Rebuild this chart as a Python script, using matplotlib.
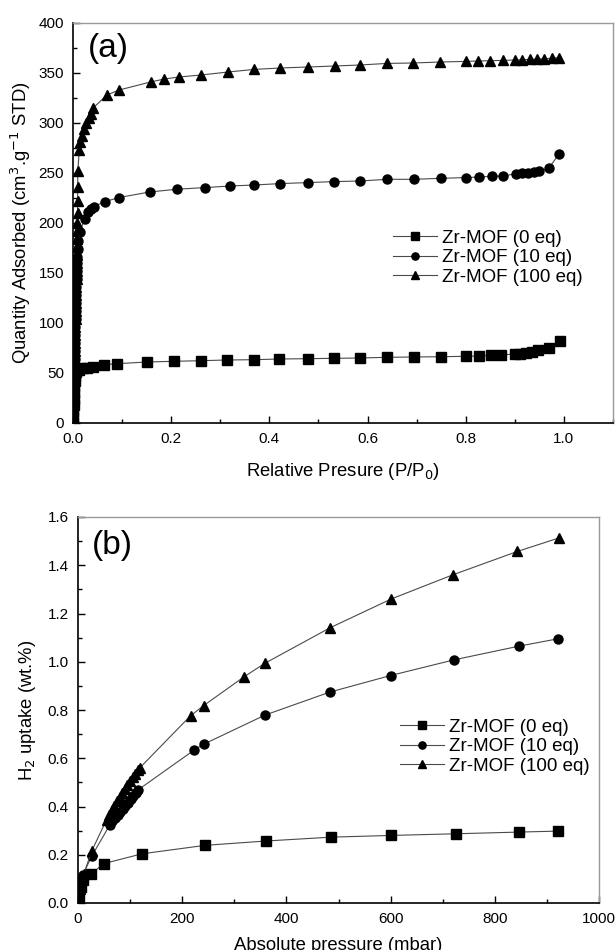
import matplotlib

matplotlib.use("Agg")
import matplotlib.pyplot as plt
from matplotlib.ticker import MultipleLocator

plt.rcParams["font.family"] = ["Liberation Sans", "DejaVu Sans"]

# ---- panel (a): N2 isotherms ----
a_x_0eq = [0.0, 0.0005, 0.001, 0.0015, 0.002, 0.0025, 0.003, 0.0035, 0.004, 0.006,
           0.012, 0.02, 0.028, 0.04, 0.064, 0.09, 0.15, 0.206, 0.26, 0.313, 0.368,
           0.42, 0.478, 0.532, 0.585, 0.64, 0.695, 0.75, 0.8, 0.828, 0.852, 0.872,
           0.9, 0.91, 0.922, 0.935, 0.947, 0.969, 0.992]
a_y_0eq = [0, 6, 12, 18, 24, 30, 36, 42, 47, 51,
           53, 55, 55.5, 56.5, 58.3, 59.3, 61, 61.7, 62.3, 63, 63.3,
           64, 64.3, 64.7, 65, 65.7, 66, 66.3, 66.7, 67, 67.7, 68,
           69, 69.3, 70, 70.7, 72.7, 75, 82.3]

a_x_10eq = [0.0, 0.0004, 0.0008, 0.0012, 0.0016, 0.002, 0.0024, 0.0028, 0.0032, 0.0036,
            0.004, 0.0044, 0.0048, 0.0052, 0.0056, 0.006, 0.0064, 0.0068, 0.0072, 0.0076,
            0.008, 0.0085, 0.0095, 0.011, 0.0136, 0.024, 0.03, 0.036, 0.042, 0.066,
            0.094, 0.156, 0.212, 0.268, 0.32, 0.369, 0.422, 0.478, 0.532, 0.585,
            0.64, 0.695, 0.75, 0.8, 0.828, 0.854, 0.875, 0.903, 0.915, 0.927,
            0.94, 0.95, 0.969, 0.99]
a_y_10eq = [0, 8, 16, 24, 32, 40, 48, 56, 64, 72,
            80, 88, 96, 104, 112, 120, 128, 136, 144, 152,
            160, 166, 174, 182, 191, 204, 210.6, 214, 216.5, 221.5,
            225.5, 231, 233.8, 235.4, 237, 238, 239.4, 240.4, 241.4, 242,
            243.7, 243.7, 244.7, 245.4, 246, 246.7, 247, 249.3, 249.7, 250.3,
            251, 252, 254.6, 269]

a_x_100eq = [0.0, 0.0004, 0.0008, 0.0012, 0.0016, 0.002, 0.0024, 0.0028, 0.0032, 0.0036,
             0.004, 0.0044, 0.0048, 0.0052, 0.0056, 0.006, 0.0064, 0.0068, 0.0072, 0.0076,
             0.008, 0.0082, 0.0084, 0.0086, 0.0088, 0.009, 0.0092, 0.0094, 0.0096, 0.0098,
             0.0128, 0.015, 0.019, 0.0224, 0.027, 0.032, 0.037, 0.041, 0.069, 0.094,
             0.158, 0.186, 0.216, 0.261, 0.316, 0.369, 0.422, 0.478, 0.533, 0.585,
             0.64, 0.693, 0.748, 0.8, 0.825, 0.85, 0.875, 0.9, 0.915, 0.93,
             0.945, 0.96, 0.975, 0.99]
a_y_100eq = [0, 8, 16, 24, 32, 40, 48, 56, 64, 72,
             80, 88, 96, 104, 112, 120, 128, 136, 144, 152,
             160, 168, 176, 184, 192, 200, 210, 222, 236, 252,
             273, 281, 287, 294, 300.5, 305, 309.5, 315, 328, 333,
             341, 344, 346, 348, 351, 353.6, 355, 356, 357, 358,
             359.6, 360, 361, 361.6, 362, 362.3, 362.6, 363, 363.3, 363.6,
             364, 364.3, 364.6, 365.5]

# ---- panel (b): H2 uptake ----
b_x_0eq = [0.5, 2, 5, 10, 25, 49, 123, 244, 361, 486, 600, 726, 847, 921]
b_y_0eq = [0.004, 0.03, 0.066, 0.097, 0.119, 0.163, 0.204, 0.239, 0.257, 0.273,
           0.28, 0.287, 0.294, 0.298]

b_x_10eq = [1, 3, 6, 9, 26, 61.5, 66, 71, 76, 81, 86, 91, 96, 101, 106, 111, 116,
            223, 242, 359, 483, 600, 722, 847, 921]
b_y_10eq = [0.02, 0.06, 0.1, 0.115, 0.193, 0.325, 0.338, 0.351, 0.364, 0.377, 0.39,
            0.403, 0.416, 0.43, 0.443, 0.457, 0.47,
            0.634, 0.659, 0.779, 0.874, 0.943, 1.008, 1.065, 1.095]

b_x_100eq = [1, 3, 6, 11, 26, 55, 60, 65, 70, 75, 80, 85, 90, 95, 100, 105, 110, 115, 119,
             216, 241, 319, 359, 484, 601, 719, 843, 923]
b_y_100eq = [0.02, 0.06, 0.1, 0.119, 0.214, 0.346, 0.366, 0.385, 0.404, 0.422, 0.44,
             0.457, 0.474, 0.49, 0.506, 0.521, 0.536, 0.55, 0.561,
             0.776, 0.818, 0.938, 0.994, 1.141, 1.26, 1.36, 1.457, 1.513]

labels = ["Zr-MOF (0 eq)", "Zr-MOF (10 eq)", "Zr-MOF (100 eq)"]
markers = ["s", "o", "^"]

LINE_KW = dict(color="#4a4a4a", lw=0.8, markerfacecolor="black",
               markeredgecolor="black", markersize=6.5)


def style_axes(ax):
    for side in ("left", "bottom"):
        ax.spines[side].set_color("black")
        ax.spines[side].set_linewidth(1.2)
    for side in ("top", "right"):
        ax.spines[side].set_color("#9a9a9a")
        ax.spines[side].set_linewidth(1.0)
    ax.tick_params(which="both", direction="in", top=False, right=False,
                   labelsize=11, width=1.0, color="black")
    ax.tick_params(which="major", length=5, pad=6.5)
    ax.tick_params(which="minor", length=3)


def legend(ax, x, y):
    ax.legend(loc="upper left", bbox_to_anchor=(x, y), frameon=False,
              fontsize=13.5, borderpad=0, borderaxespad=0, labelspacing=0.12,
              handlelength=2.35, handletextpad=0.25, markerscale=0.8)


fig = plt.figure(figsize=(6.16, 9.5), dpi=100)

ax1 = fig.add_axes([73 / 616, 1 - 423 / 950, 540 / 616, 400 / 950])
for xs, ys, m, lab in zip([a_x_0eq, a_x_10eq, a_x_100eq],
                          [a_y_0eq, a_y_10eq, a_y_100eq], markers, labels):
    ax1.plot(xs, ys, marker=m, label=lab, **LINE_KW)
ax1.set_xlim(0, 1.1)
ax1.set_ylim(0, 400)
ax1.xaxis.set_major_locator(MultipleLocator(0.2))
ax1.xaxis.set_minor_locator(MultipleLocator(0.1))
ax1.yaxis.set_major_locator(MultipleLocator(50))
ax1.yaxis.set_minor_locator(MultipleLocator(25))
ax1.xaxis.set_major_formatter(plt.FormatStrFormatter("%.1f"))
style_axes(ax1)
ax1.set_xlabel("Relative Presure (P/P$_0$)", fontsize=13.3, labelpad=11)
ax1.set_ylabel("Quantity Adsorbed (cm$^3$.g$^{-1}$ STD)", fontsize=13.3, labelpad=4)
ax1.text(0.066, 0.935, "(a)", transform=ax1.transAxes, fontsize=24,
         ha="center", va="center")
legend(ax1, 0.593, 0.483)

ax2 = fig.add_axes([78 / 616, 1 - 903 / 950, 521 / 616, 386 / 950])
for xs, ys, m, lab in zip([b_x_0eq, b_x_10eq, b_x_100eq],
                          [b_y_0eq, b_y_10eq, b_y_100eq], markers, labels):
    ax2.plot(xs, ys, marker=m, label=lab, **LINE_KW)
ax2.set_xlim(0, 1000)
ax2.set_ylim(0, 1.6)
ax2.xaxis.set_major_locator(MultipleLocator(200))
ax2.xaxis.set_minor_locator(MultipleLocator(100))
ax2.yaxis.set_major_locator(MultipleLocator(0.2))
ax2.yaxis.set_minor_locator(MultipleLocator(0.1))
ax2.yaxis.set_major_formatter(plt.FormatStrFormatter("%.1f"))
style_axes(ax2)
ax2.set_xlabel("Absolute pressure (mbar)", fontsize=13.3, labelpad=8)
ax2.set_ylabel("H$_2$ uptake (wt.%)", fontsize=13.3, labelpad=7)
ax2.text(0.066, 0.925, "(b)", transform=ax2.transAxes, fontsize=24,
         ha="center", va="center")
legend(ax2, 0.618, 0.477)

fig.savefig("out.png", dpi=100)
